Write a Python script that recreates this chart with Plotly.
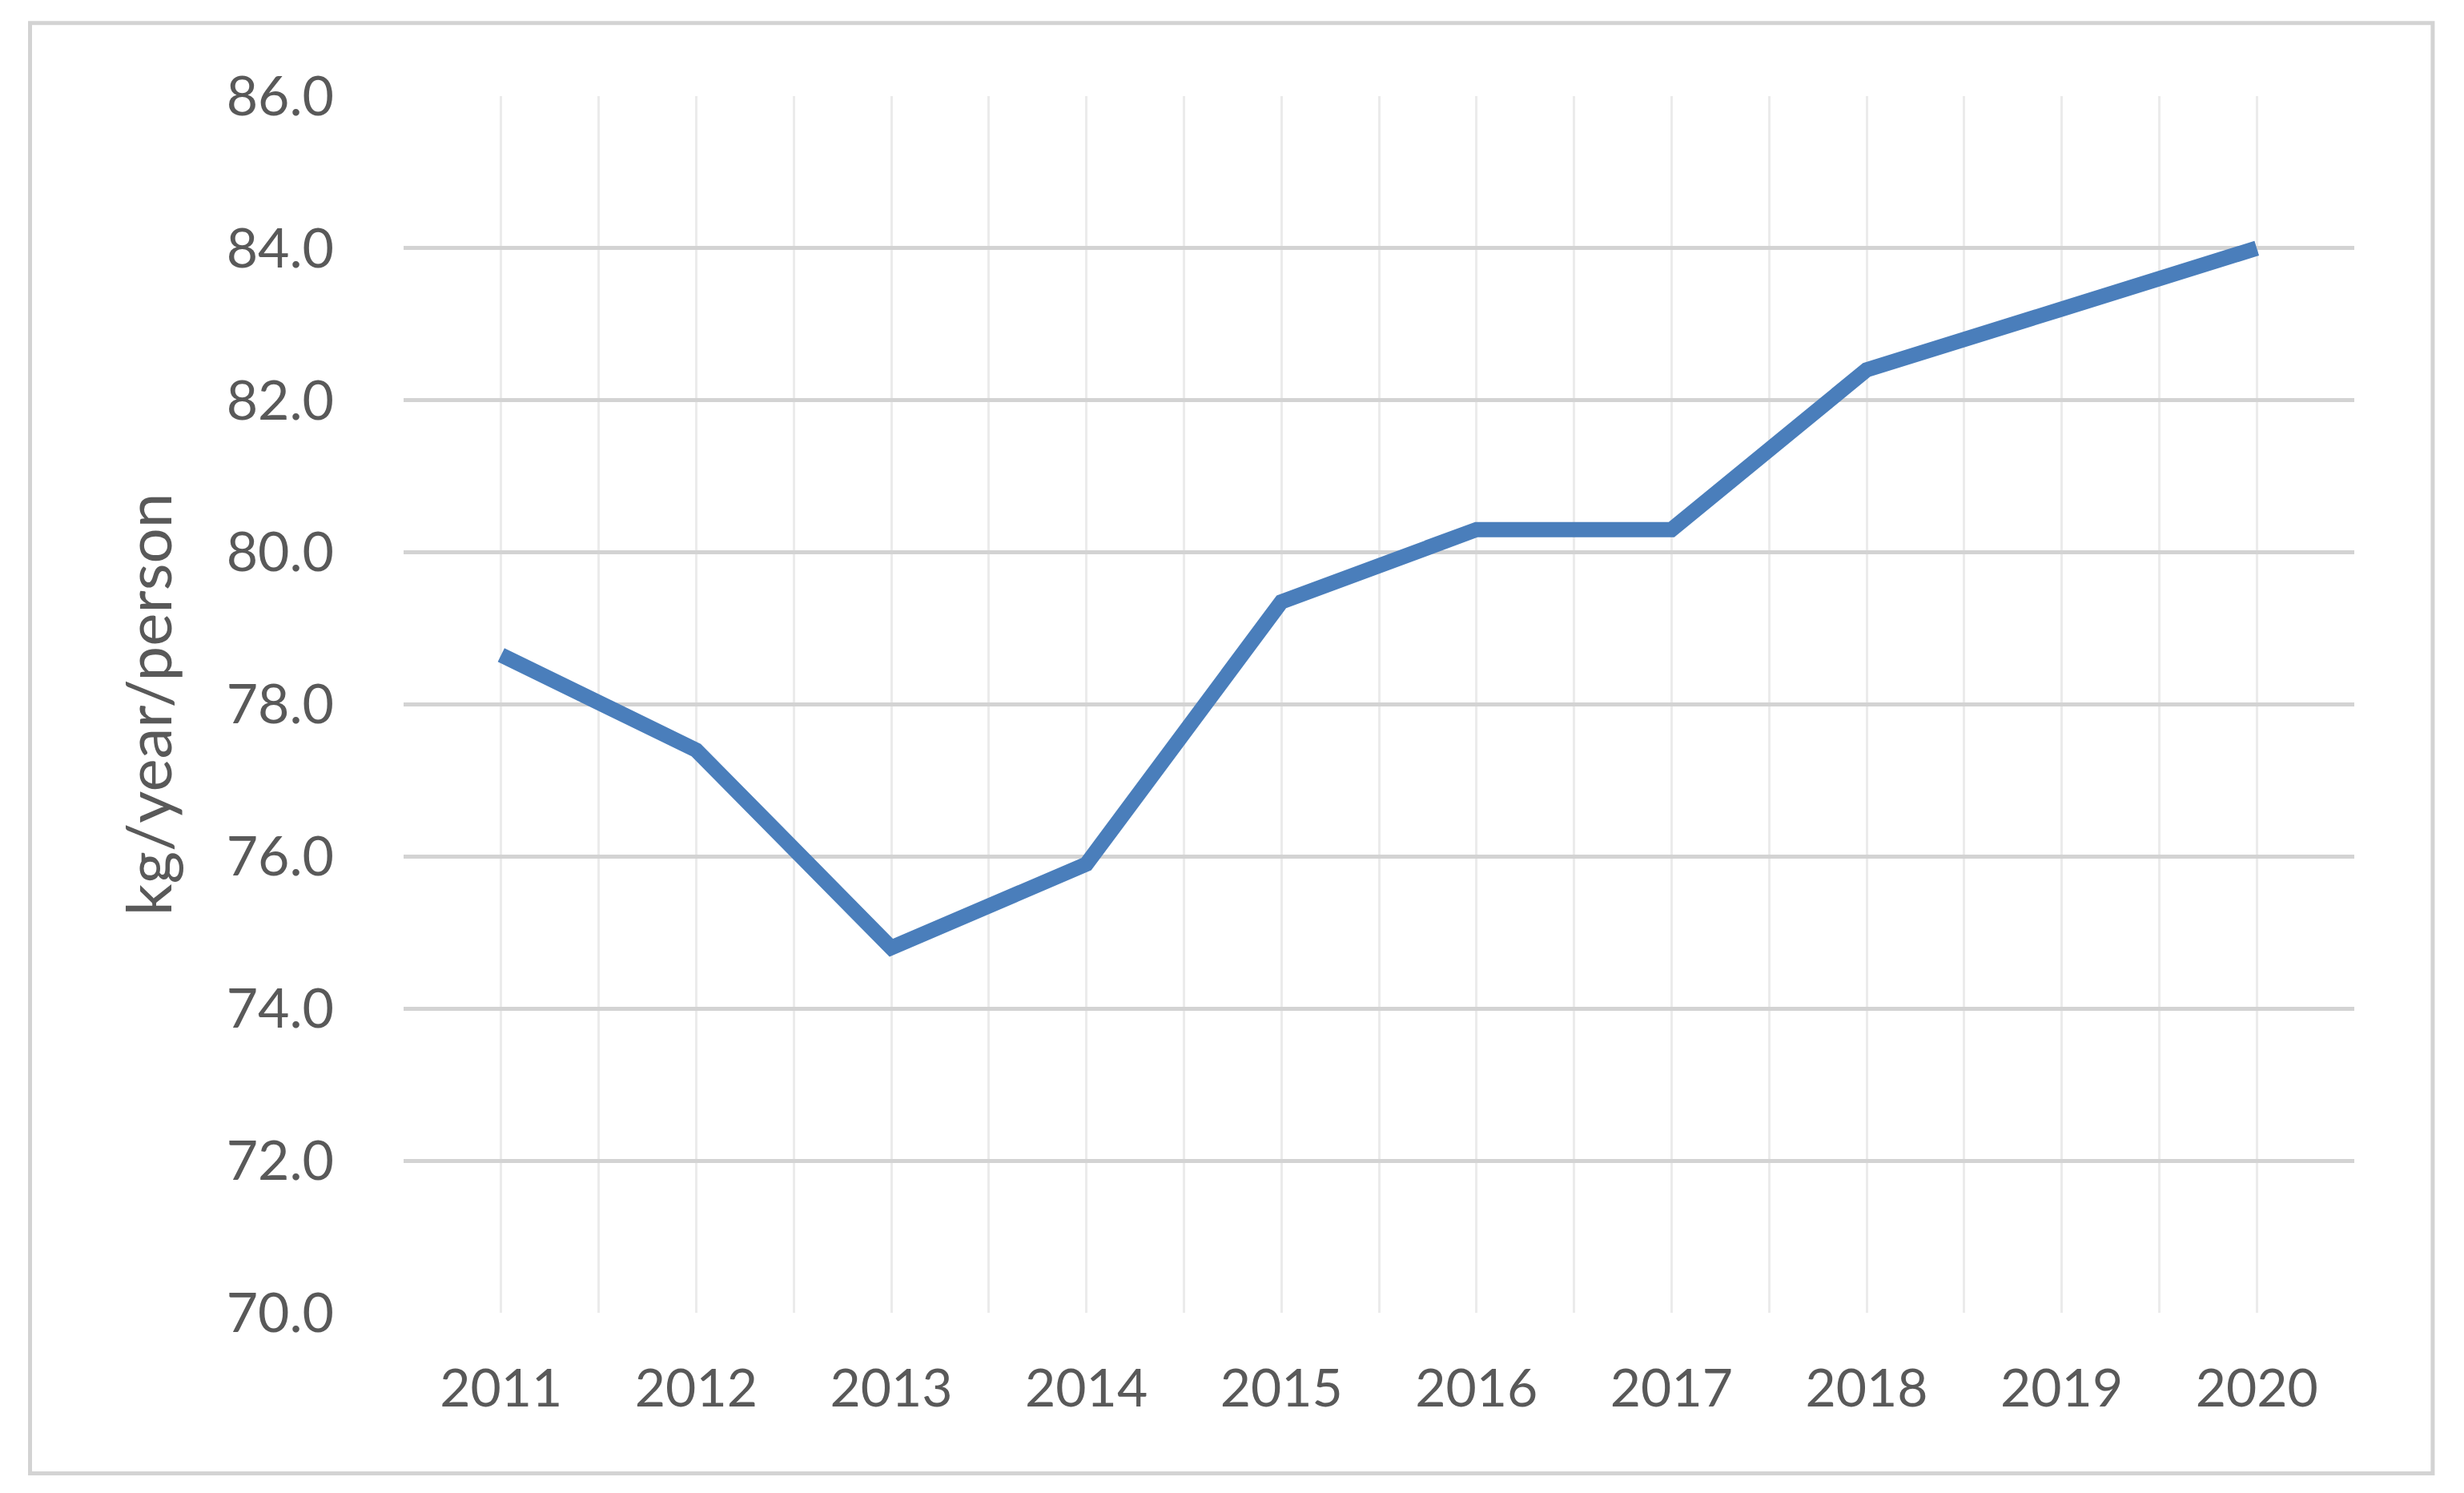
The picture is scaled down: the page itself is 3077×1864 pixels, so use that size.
import plotly.graph_objects as go

years = [2011, 2012, 2013, 2014, 2015, 2016, 2017, 2018, 2019, 2020]
values = [78.65, 77.4, 74.8, 75.9, 79.35, 80.3, 80.3, 82.4, 83.2, 84.0]
y_ticks = [70, 72, 74, 76, 78, 80, 82, 84, 86]
y_title = "kg/year/person"

FONT = "Lato, 'Open Sans', sans-serif"
GREY_TXT = "#595959"
GRID = "#D3D3D3"

fig = go.Figure()
fig.add_trace(go.Scatter(
    x=years, y=values, mode="lines",
    line=dict(color="#4A7EBB", width=19),
    showlegend=False, hoverinfo="skip",
))

fig.update_layout(
    width=3069, height=1856,
    margin=dict(l=496, r=137, t=112, b=225),
    paper_bgcolor="white", plot_bgcolor="white",
    font=dict(family=FONT, color=GREY_TXT, size=66),
    xaxis=dict(
        range=[2010.5, 2020.5],
        tickvals=years, ticktext=[str(y) for y in years],
        showgrid=True, gridcolor="#EBEBEB", gridwidth=3,
        minor=dict(tick0=2010.5, dtick=1, showgrid=True, gridcolor="#EBEBEB", gridwidth=3),
        zeroline=False, showline=False, ticks="",
        tickfont=dict(size=66, color=GREY_TXT, family=FONT),
        ticklabelstandoff=50,
        fixedrange=True,
    ),
    yaxis=dict(
        range=[70, 86], tickvals=y_ticks, tickformat=".1f",
        showgrid=True, gridcolor=GRID, gridwidth=5,
        zeroline=False, showline=False, ticks="",
        tickfont=dict(size=68, color=GREY_TXT, family=FONT),
        ticklabelstandoff=86,
        title=dict(text=y_title, font=dict(size=78, color=GREY_TXT, family=FONT), standoff=42),
        fixedrange=True,
    ),
)

fig.add_shape(type="rect", xref="paper", yref="paper",
              x0=-0.1915, x1=1.0402, y0=-0.132, y1=1.060,
              line=dict(color=GRID, width=5), fillcolor="rgba(0,0,0,0)", layer="below")

fig.write_html("out.html")
